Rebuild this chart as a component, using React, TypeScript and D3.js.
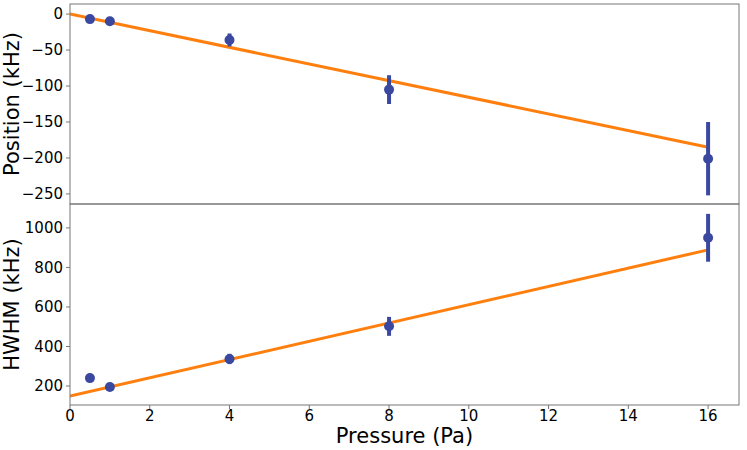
import React from 'react';
import * as d3 from 'd3';

const pressures = [0.5, 1, 4, 8, 16];
const positionValues = [-7, -10, -36, -105, -201];
const positionErrors = [1, 1, 9, 20, 51];
const positionFit = [0, -185];
const hwhmValues = [240, 195, 337, 502, 950];
const hwhmErrors = [4, 4, 26, 48, 121];
const hwhmFit = [149, 889];
const xTicks = [0, 2, 4, 6, 8, 10, 12, 14, 16];
const positionTicks = [0, -50, -100, -150, -200, -250];
const hwhmTicks = [200, 400, 600, 800, 1000];

const W = 747;
const H = 450;
const left = 70;
const right = 739;
const topY = 4;
const midY = 204;
const bottomY = 405;
const fontFamily = 'DejaVu Sans, sans-serif';
const pointColor = '#3a48a0';
const fitColor = '#ff7f0e';
const spineColor = '#777';

const fmt = (v: number) => (v < 0 ? '\u2212' + Math.abs(v) : String(v));

const App: React.FC = () => {
  const x = d3.scaleLinear().domain([0, 16.775]).range([left, right]);
  const yPos = d3.scaleLinear().domain([-264, 14]).range([midY, topY]);
  const yHw = d3.scaleLinear().domain([104, 1121]).range([bottomY, midY]);

  const panel = (
    y: d3.ScaleLinear<number, number>,
    values: number[],
    errors: number[],
    fit: number[],
    ticks: number[],
    clipId: string
  ) => (
    <g>
      <g clipPath={`url(#${clipId})`}>
        <line
          x1={x(0)}
          y1={y(fit[0])}
          x2={x(16)}
          y2={y(fit[1])}
          stroke={fitColor}
          strokeWidth={3}
        />
        {pressures.map((p, i) => (
          <g key={i}>
            <line
              x1={x(p)}
              x2={x(p)}
              y1={y(values[i] - errors[i])}
              y2={y(values[i] + errors[i])}
              stroke={pointColor}
              strokeWidth={4}
            />
            <circle cx={x(p)} cy={y(values[i])} r={5} fill={pointColor} />
          </g>
        ))}
      </g>
      {ticks.map(t => (
        <g key={t}>
          <line x1={left - 4} x2={left} y1={y(t)} y2={y(t)} stroke={spineColor} />
          <text
            x={left - 7}
            y={y(t)}
            dy="0.36em"
            textAnchor="end"
            fontSize={15}
            fontFamily={fontFamily}
          >
            {fmt(t)}
          </text>
        </g>
      ))}
    </g>
  );

  return (
    <svg width={W} height={H} style={{ position: 'absolute', left: 0, top: 0, background: '#fff' }}>
      <defs>
        <clipPath id="clipTop">
          <rect x={left} y={topY} width={right - left} height={midY - topY} />
        </clipPath>
        <clipPath id="clipBottom">
          <rect x={left} y={midY} width={right - left} height={bottomY - midY} />
        </clipPath>
      </defs>
      {panel(yPos, positionValues, positionErrors, positionFit, positionTicks, 'clipTop')}
      {panel(yHw, hwhmValues, hwhmErrors, hwhmFit, hwhmTicks, 'clipBottom')}
      <rect x={left} y={topY} width={right - left} height={midY - topY} fill="none" stroke={spineColor} />
      <rect x={left} y={midY} width={right - left} height={bottomY - midY} fill="none" stroke={spineColor} />
      {xTicks.map(t => (
        <g key={t}>
          <line x1={x(t)} x2={x(t)} y1={bottomY} y2={bottomY + 4} stroke={spineColor} />
          <text
            x={x(t)}
            y={bottomY + 16}
            textAnchor="middle"
            fontSize={15}
            fontFamily={fontFamily}
          >
            {t}
          </text>
        </g>
      ))}
      <text x={(left + right) / 2} y={443} textAnchor="middle" fontSize={21} fontFamily={fontFamily}>
        Pressure (Pa)
      </text>
      <text
        transform={`translate(19, ${(topY + midY) / 2}) rotate(-90)`}
        textAnchor="middle"
        fontSize={21}
        fontFamily={fontFamily}
      >
        Position (kHz)
      </text>
      <text
        transform={`translate(19, ${(midY + bottomY) / 2}) rotate(-90)`}
        textAnchor="middle"
        fontSize={21}
        fontFamily={fontFamily}
      >
        HWHM (kHz)
      </text>
    </svg>
  );
};

export default App;
